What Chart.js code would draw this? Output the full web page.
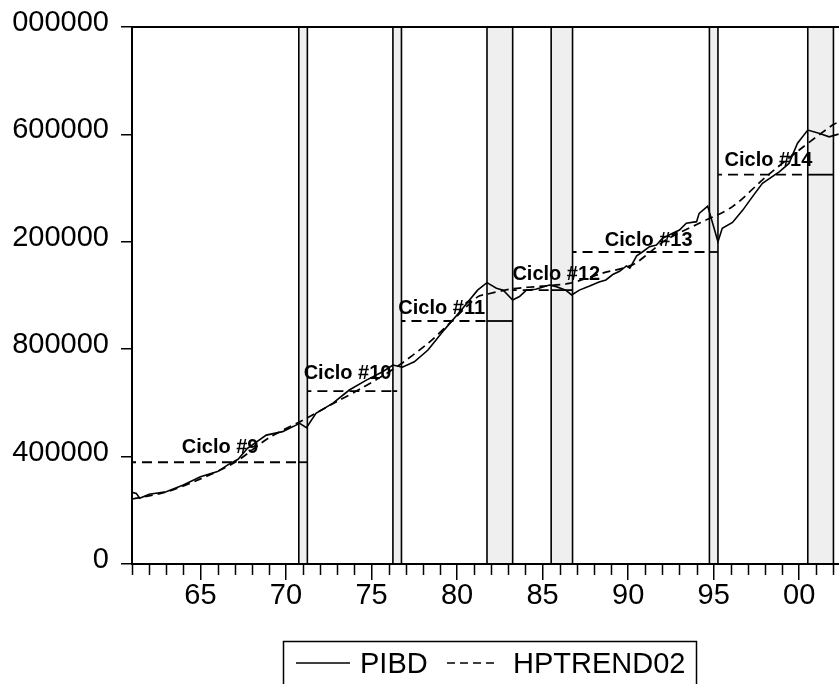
<!DOCTYPE html>
<html>
<head>
<meta charset="utf-8">
<title>PIBD y HPTREND02</title>
<script src="https://cdn.jsdelivr.net/npm/chart.js@4.4.0/dist/chart.umd.min.js"></script>
<style>
    html, body { margin: 0; padding: 0; background: #fff; overflow: hidden; }
    #wrap { position: relative; width: 860px; height: 684px; }
    #clip { position: absolute; left: 0; top: 0; width: 12px; height: 684px; background: #fff; }
</style>
</head>
<body>
<div id="wrap">
    <canvas id="chart" width="860" height="684"></canvas>
    <div id="clip"></div>
</div>
<script>
/* PIBD with HP trend, recession bands and cycle averages */

// ── Data ──────────────────────────────────────────────────────────────────
const pibdYears = [1961.0, 1961.25, 1961.45, 1962.0, 1963.0, 1964.0, 1965.0, 1966.0, 1966.6, 1967.2, 1967.75,
    1968.85, 1969.8, 1970.8, 1971.2, 1971.75, 1972.75, 1973.7, 1974.7, 1975.65, 1976.25, 1976.8, 1977.5,
    1978.3, 1979.25, 1980.25, 1981.2, 1981.75, 1982.3, 1982.7, 1983.25, 1983.65, 1984.05, 1984.6, 1985.4,
    1985.8, 1986.35, 1986.7, 1987.15, 1987.75, 1988.3, 1988.7, 1989.1, 1989.5, 1989.9, 1990.1, 1990.5,
    1990.85, 1991.25, 1991.65, 1992.0, 1992.6, 1993.0, 1993.4, 1994.0, 1994.15, 1994.65, 1995.25, 1995.5,
    1996.1, 1996.7, 1997.3, 1997.85, 1998.85, 1999.4, 1999.9, 2000.5, 2001.15, 2001.75, 2002.3];
const pibd = [267000, 263000, 245000, 260000, 269000, 294000, 325000, 344000, 369000, 390000, 431000,
    480000, 493000, 524000, 508000, 561000, 599000, 648000, 685000, 716000, 741000, 733000, 753000,
    797000, 872000, 946000, 1020000, 1048000, 1027000, 1020000, 983000, 996000, 1020000, 1023000, 1039000,
    1033000, 1020000, 1002000, 1020000, 1035000, 1050000, 1058000, 1078000, 1090000, 1110000, 1102000, 1148000,
    1163000, 1182000, 1188000, 1213000, 1232000, 1244000, 1269000, 1275000, 1306000, 1333000, 1200000, 1250000,
    1272000, 1318000, 1371000, 1418000, 1461000, 1492000, 1567000, 1616000, 1604000, 1591000, 1601000];

const trendYears = [1961, 1963, 1965, 1967, 1969, 1971, 1973, 1974.4, 1976.35, 1978.3, 1979.65, 1981.2,
    1981.75, 1983.25, 1985, 1986.55, 1988.5, 1990.25, 1991.25, 1992.2, 1994.15, 1996.1, 1998.05, 2000,
    2001.95, 2002.3];
const hptrend02 = [242000, 268000, 317000, 378000, 470000, 536000, 606000, 654000, 729000, 822000, 902000, 995000,
    1005000, 1025000, 1035000, 1045000, 1083000, 1114000, 1160000, 1207000, 1269000, 1331000, 1442000, 1542000,
    1635000, 1646000];

// recession bands (shaded)
const bandStart = [1970.75, 1976.25, 1981.75, 1985.5, 1994.75, 2000.5];
const bandEnd   = [1971.25, 1976.75, 1983.25, 1986.75, 1995.25, 2002.0];

// cycle averages
const cycleNames  = ['Ciclo #9', 'Ciclo #10', 'Ciclo #11', 'Ciclo #12', 'Ciclo #13', 'Ciclo #14'];
const cycleStart  = [1961, 1971.25, 1976.75, 1983.25, 1986.75, 1995.25];
const cycleEnd    = [1971.25, 1976.5, 1983.25, 1986.75, 1995.25, 2002.0];
const cycleLevel  = [379000, 644000, 905000, 1020000, 1162000, 1450000];
const cycleLabelX = [1966.15, 1973.6, 1979.1, 1985.8, 1991.2, 1998.2];
const cycleLabelY = [413000, 689000, 930000, 1058000, 1185000, 1483000];

// axis ticks
const majorYears = [1965, 1970, 1975, 1980, 1985, 1990, 1995, 2000];
const yTicks = [0, 400000, 800000, 1200000, 1600000, 2000000];

const FONT = '"Liberation Sans", Arial, Helvetica, sans-serif';
Chart.defaults.font.family = FONT;
Chart.defaults.color = '#000';

const inBand = x => bandStart.some((s, i) => x > s && x < bandEnd[i]);

// ── Datasets ──────────────────────────────────────────────────────────────
const datasets = [
    { label: 'PIBD', data: pibdYears.map((x, i) => ({ x, y: pibd[i] })),
      borderColor: '#000', borderWidth: 1.6, pointRadius: 0, tension: 0 },
    { label: 'HPTREND02', data: trendYears.map((x, i) => ({ x, y: hptrend02[i] })),
      borderColor: '#000', borderWidth: 1.7, borderDash: [8, 5], pointRadius: 0, tension: 0.3 }
];

cycleNames.forEach((name, i) => {
    const xs = [cycleStart[i]];
    bandStart.concat(bandEnd).sort((a, b) => a - b).forEach(b => {
        if (b > cycleStart[i] && b < cycleEnd[i]) xs.push(b);
    });
    xs.push(cycleEnd[i]);
    datasets.push({
        label: name,
        data: xs.map(x => ({ x, y: cycleLevel[i] })),
        borderColor: '#000', borderWidth: 1.8, pointRadius: 0, borderDashOffset: 6,
        segment: { borderDash: ctx => inBand((ctx.p0.parsed.x + ctx.p1.parsed.x) / 2) ? [] : [10, 6] }
    });
});

// ── Plugins ───────────────────────────────────────────────────────────────
const bandsPlugin = {
    id: 'bands',
    beforeDatasetsDraw(chart) {
        const { ctx, chartArea: a, scales: { x, y } } = chart;
        ctx.save();
        bandStart.forEach((s, i) => {
            const x0 = x.getPixelForValue(s), x1 = x.getPixelForValue(bandEnd[i]);
            ctx.fillStyle = '#efefef';
            ctx.fillRect(x0, a.top, x1 - x0, a.bottom - a.top);
            ctx.strokeStyle = '#000';
            ctx.lineWidth = 1.6;
            ctx.beginPath();
            ctx.moveTo(x0, a.top); ctx.lineTo(x0, a.bottom);
            ctx.moveTo(x1, a.top); ctx.lineTo(x1, a.bottom);
            ctx.stroke();
        });
        // cycle labels sit under the lines
        ctx.font = 'bold 20px ' + FONT;
        ctx.fillStyle = '#000';
        ctx.textAlign = 'center';
        ctx.textBaseline = 'alphabetic';
        cycleNames.forEach((name, i) => {
            ctx.fillText(name, x.getPixelForValue(cycleLabelX[i]), y.getPixelForValue(cycleLabelY[i]));
        });
        ctx.restore();
    }
};

const framePlugin = {
    id: 'frame',
    afterDraw(chart) {
        const { ctx, chartArea: a, scales: { x } } = chart;
        ctx.save();
        ctx.strokeStyle = '#000';
        ctx.lineWidth = 2;
        ctx.strokeRect(a.left, a.top, a.right - a.left, a.bottom - a.top);
        // minor year ticks
        ctx.lineWidth = 1.5;
        ctx.beginPath();
        for (let yr = 1961; yr <= 2002; yr++) {
            if (majorYears.includes(yr)) continue;
            const px = Math.round(x.getPixelForValue(yr)) + 0.5;
            ctx.moveTo(px, a.bottom); ctx.lineTo(px, a.bottom + 11);
        }
        ctx.stroke();

        // legend
        const lx = 283, ly = 641, lw = 413;
        ctx.lineWidth = 1.5;
        ctx.strokeRect(lx + 0.5, ly + 0.5, lw, 80);
        const my = 663;
        ctx.lineWidth = 1.6;
        ctx.beginPath(); ctx.moveTo(lx + 13, my); ctx.lineTo(lx + 67, my); ctx.stroke();
        ctx.setLineDash([8, 5]);
        ctx.beginPath(); ctx.moveTo(lx + 164, my); ctx.lineTo(lx + 216, my); ctx.stroke();
        ctx.setLineDash([]);
        ctx.font = '29px ' + FONT;
        ctx.fillStyle = '#000';
        ctx.textBaseline = 'alphabetic';
        ctx.fillText(datasets[0].label, lx + 77, 673);
        ctx.fillText(datasets[1].label, lx + 230, 673);
        ctx.restore();
    }
};

// ── Chart ─────────────────────────────────────────────────────────────────
new Chart(document.getElementById('chart').getContext('2d'), {
    type: 'line',
    data: { datasets },
    options: {
        responsive: false,
        animation: false,
        devicePixelRatio: 1,
        layout: { padding: { top: 27, right: 18, left: 0, bottom: 0 } },
        plugins: { legend: { display: false }, tooltip: { enabled: false } },
        scales: {
            x: {
                type: 'linear', min: 1961, max: 2002.5,
                afterBuildTicks: axis => { axis.ticks = majorYears.map(v => ({ value: v })); },
                afterFit: axis => { axis.height = 120; },
                ticks: {
                    autoSkip: false, maxRotation: 0, padding: 1,
                    font: { size: 29, lineHeight: 1 }, color: '#000',
                    callback: v => String(v % 100).padStart(2, '0')
                },
                grid: { drawOnChartArea: false, drawTicks: true, tickLength: 16, color: '#000', lineWidth: 1.5 },
                border: { display: true, color: '#000', width: 2 }
            },
            y: {
                min: 0, max: 2000000,
                afterBuildTicks: axis => { axis.ticks = yTicks.map(v => ({ value: v })); },
                afterFit: axis => { axis.width = 132; },
                ticks: {
                    padding: 12, labelOffset: -4, font: { size: 29, lineHeight: 1 }, color: '#000',
                    callback: v => String(v)
                },
                grid: { drawOnChartArea: false, drawTicks: true, tickLength: 11, color: '#000', lineWidth: 1.5 },
                border: { display: true, color: '#000', width: 2 }
            }
        }
    },
    plugins: [bandsPlugin, framePlugin]
});
</script>
</body>
</html>
